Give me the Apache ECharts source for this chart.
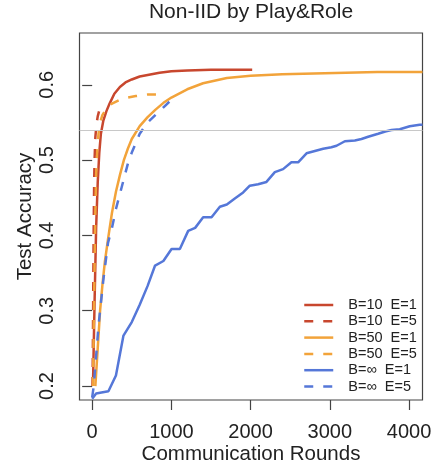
<!DOCTYPE html>
<html>
<head>
<meta charset="utf-8">
<script src="https://cdn.jsdelivr.net/npm/echarts@6/dist/echarts.min.js"></script>
<style>
html,body{margin:0;padding:0;background:#fff;}
#chart{width:436px;height:470px;}
</style>
</head>
<body>
<div id="chart"></div>
<script>
const titleText = "Non-IID by Play&Role";
const xName = "Communication Rounds";
const yName = "Test Accuracy";
const xTicks = [0, 1000, 2000, 3000, 4000];
const yTicks = [0.2, 0.3, 0.4, 0.5, 0.6];
const refLine = 0.541;
const seriesNames = ["B=10  E=1", "B=10  E=5", "B=50  E=1", "B=50  E=5", "B=\u221e  E=1", "B=\u221e  E=5"];

const b10e1Rounds = [10, 30, 50, 70, 90, 110, 140, 180, 220, 280, 350, 420, 500, 600, 700, 850, 1000, 1200, 1500, 1800, 2020];
const b10e1Acc    = [0.20, 0.31, 0.41, 0.47, 0.51, 0.535, 0.552, 0.565, 0.575, 0.588, 0.597, 0.603, 0.607, 0.611, 0.613, 0.616, 0.618, 0.619, 0.620, 0.620, 0.620];

const b10e5Rounds = [5, 10, 15, 20, 25, 30, 40, 55, 70, 90];
const b10e5Acc    = [0.20, 0.27, 0.35, 0.42, 0.47, 0.50, 0.53, 0.548, 0.558, 0.566];

const b50e1Rounds = [40, 70, 100, 130, 160, 200, 250, 300, 350, 400, 450, 500, 600, 700, 800, 900, 1000, 1200, 1400, 1700, 2000, 2400, 2800, 3200, 3600, 4000, 4170];
const b50e1Acc    = [0.20, 0.25, 0.30, 0.335, 0.365, 0.395, 0.43, 0.458, 0.48, 0.50, 0.515, 0.528, 0.545, 0.557, 0.567, 0.576, 0.583, 0.594, 0.602, 0.609, 0.612, 0.614, 0.615, 0.616, 0.617, 0.617, 0.617];

const b50e5Rounds = [10, 20, 30, 40, 50, 65, 80, 100, 130, 180, 250, 350, 450, 550, 700, 880];
const b50e5Acc    = [0.20, 0.28, 0.36, 0.43, 0.48, 0.515, 0.535, 0.55, 0.56, 0.568, 0.575, 0.58, 0.583, 0.585, 0.587, 0.587];

const bInfE1Rounds = [0, 50, 100, 205, 300, 395, 500, 600, 700, 794, 899, 1002, 1107, 1212, 1300, 1401, 1507, 1612, 1700, 1801, 1906, 1990, 2095, 2200, 2306, 2410, 2515, 2600, 2706, 2811, 2916, 3020, 3085, 3190, 3316, 3400, 3484, 3610, 3700, 3778, 3883, 4009, 4135, 4170];
const bInfE1Acc    = [0.183, 0.190, 0.191, 0.193, 0.214, 0.267, 0.285, 0.308, 0.333, 0.360, 0.366, 0.382, 0.382, 0.406, 0.410, 0.424, 0.424, 0.438, 0.441, 0.449, 0.457, 0.466, 0.468, 0.471, 0.484, 0.488, 0.497, 0.497, 0.509, 0.512, 0.515, 0.517, 0.519, 0.525, 0.526, 0.528, 0.531, 0.535, 0.538, 0.540, 0.541, 0.545, 0.547, 0.547];

const bInfE5Rounds = [0, 20, 50, 80, 110, 140, 170, 200, 250, 300, 350, 400, 450, 500, 600, 700, 800, 900, 1010];
const bInfE5Acc    = [0.185, 0.20, 0.24, 0.28, 0.31, 0.34, 0.365, 0.39, 0.41, 0.435, 0.455, 0.475, 0.495, 0.51, 0.535, 0.55, 0.56, 0.57, 0.581];

const colors = ["#c8472e", "#c8472e", "#f2a33a", "#f2a33a", "#5577d8", "#5577d8"];
const dashed = [false, true, false, true, false, true];

function zip(xs, ys) { return xs.map((x, i) => [x, ys[i]]); }
const allData = [
  zip(b10e1Rounds, b10e1Acc), zip(b10e5Rounds, b10e5Acc),
  zip(b50e1Rounds, b50e1Acc), zip(b50e5Rounds, b50e5Acc),
  zip(bInfE1Rounds, bInfE1Acc), zip(bInfE5Rounds, bInfE5Acc)
];

const FONT = "Liberation Sans, Arial, Helvetica, sans-serif";
const chart = echarts.init(document.getElementById('chart'), null, {renderer: 'canvas'});

const dashPattern = [9, 10];
const series = allData.map((d, i) => ({
  name: seriesNames[i],
  type: 'line',
  data: d,
  symbol: 'none',
  showSymbol: false,
  smooth: false,
  clip: true,
  animation: false,
  lineStyle: {color: colors[i], width: 2.5, type: dashed[i] ? dashPattern : 'solid'},
  itemStyle: {color: colors[i]}
}));
series[0].markLine = {
  silent: true,
  symbol: 'none',
  label: {show: false},
  animation: false,
  lineStyle: {color: '#c8c8c8', width: 1, type: 'solid'},
  data: [{yAxis: refLine}]
};

const legendData = seriesNames.map((n, i) => ({
  name: n,
  itemStyle: {opacity: 0, color: colors[i], borderWidth: 0},
  lineStyle: {color: colors[i], width: 2.5, type: dashed[i] ? dashPattern : 'solid', opacity: 1}
}));

chart.setOption({
  animation: false,
  backgroundColor: '#fff',
  title: {
    text: titleText,
    left: 251, top: 2, textAlign: 'center', padding: 0,
    textStyle: {fontFamily: FONT, fontSize: 21, fontWeight: 'normal', color: '#222'}
  },
  legend: {
    orient: 'vertical',
    left: 303, top: 297, padding: 0,
    itemWidth: 29, itemHeight: 14, itemGap: 0.3,
    data: legendData,
    textStyle: {fontFamily: FONT, fontSize: 14.5, color: '#222', lineHeight: 16, padding: [0, 0, 0, 10]}
  },
  grid: {
    left: 79.5, right: 13.5, top: 33, bottom: 68.5,
    show: true, borderColor: '#444', borderWidth: 1.2, backgroundColor: 'transparent'
  },
  xAxis: {
    type: 'value', min: -160, max: 4170,
    name: xName, nameLocation: 'middle', nameGap: 44, nameMoveOverlap: false,
    nameTextStyle: {fontFamily: FONT, fontSize: 20.5, color: '#222'},
    axisLine: {show: false},
    splitLine: {show: false},
    axisTick: {show: true, inside: false, length: 10, customValues: xTicks, lineStyle: {color: '#444', width: 1.2}},
    axisLabel: {customValues: xTicks, margin: 22, fontFamily: FONT, fontSize: 20, color: '#222', formatter: v => String(v)}
  },
  yAxis: {
    type: 'value', min: 0.1815, max: 0.6687,
    name: yName, nameLocation: 'middle', nameGap: 44, nameRotate: 90, nameMoveOverlap: false,
    nameTextStyle: {fontFamily: FONT, fontSize: 20.5, color: '#222'},
    axisLine: {show: false},
    splitLine: {show: false},
    axisTick: {show: true, inside: false, length: 10, customValues: yTicks, lineStyle: {color: '#444', width: 1.2}},
    axisLabel: {customValues: yTicks, rotate: 90, align: 'center', verticalAlign: 'bottom', margin: 22,
      fontFamily: FONT, fontSize: 20, color: '#222', formatter: v => v.toFixed(1)}
  },
  series: series
});
</script>
</body>
</html>
